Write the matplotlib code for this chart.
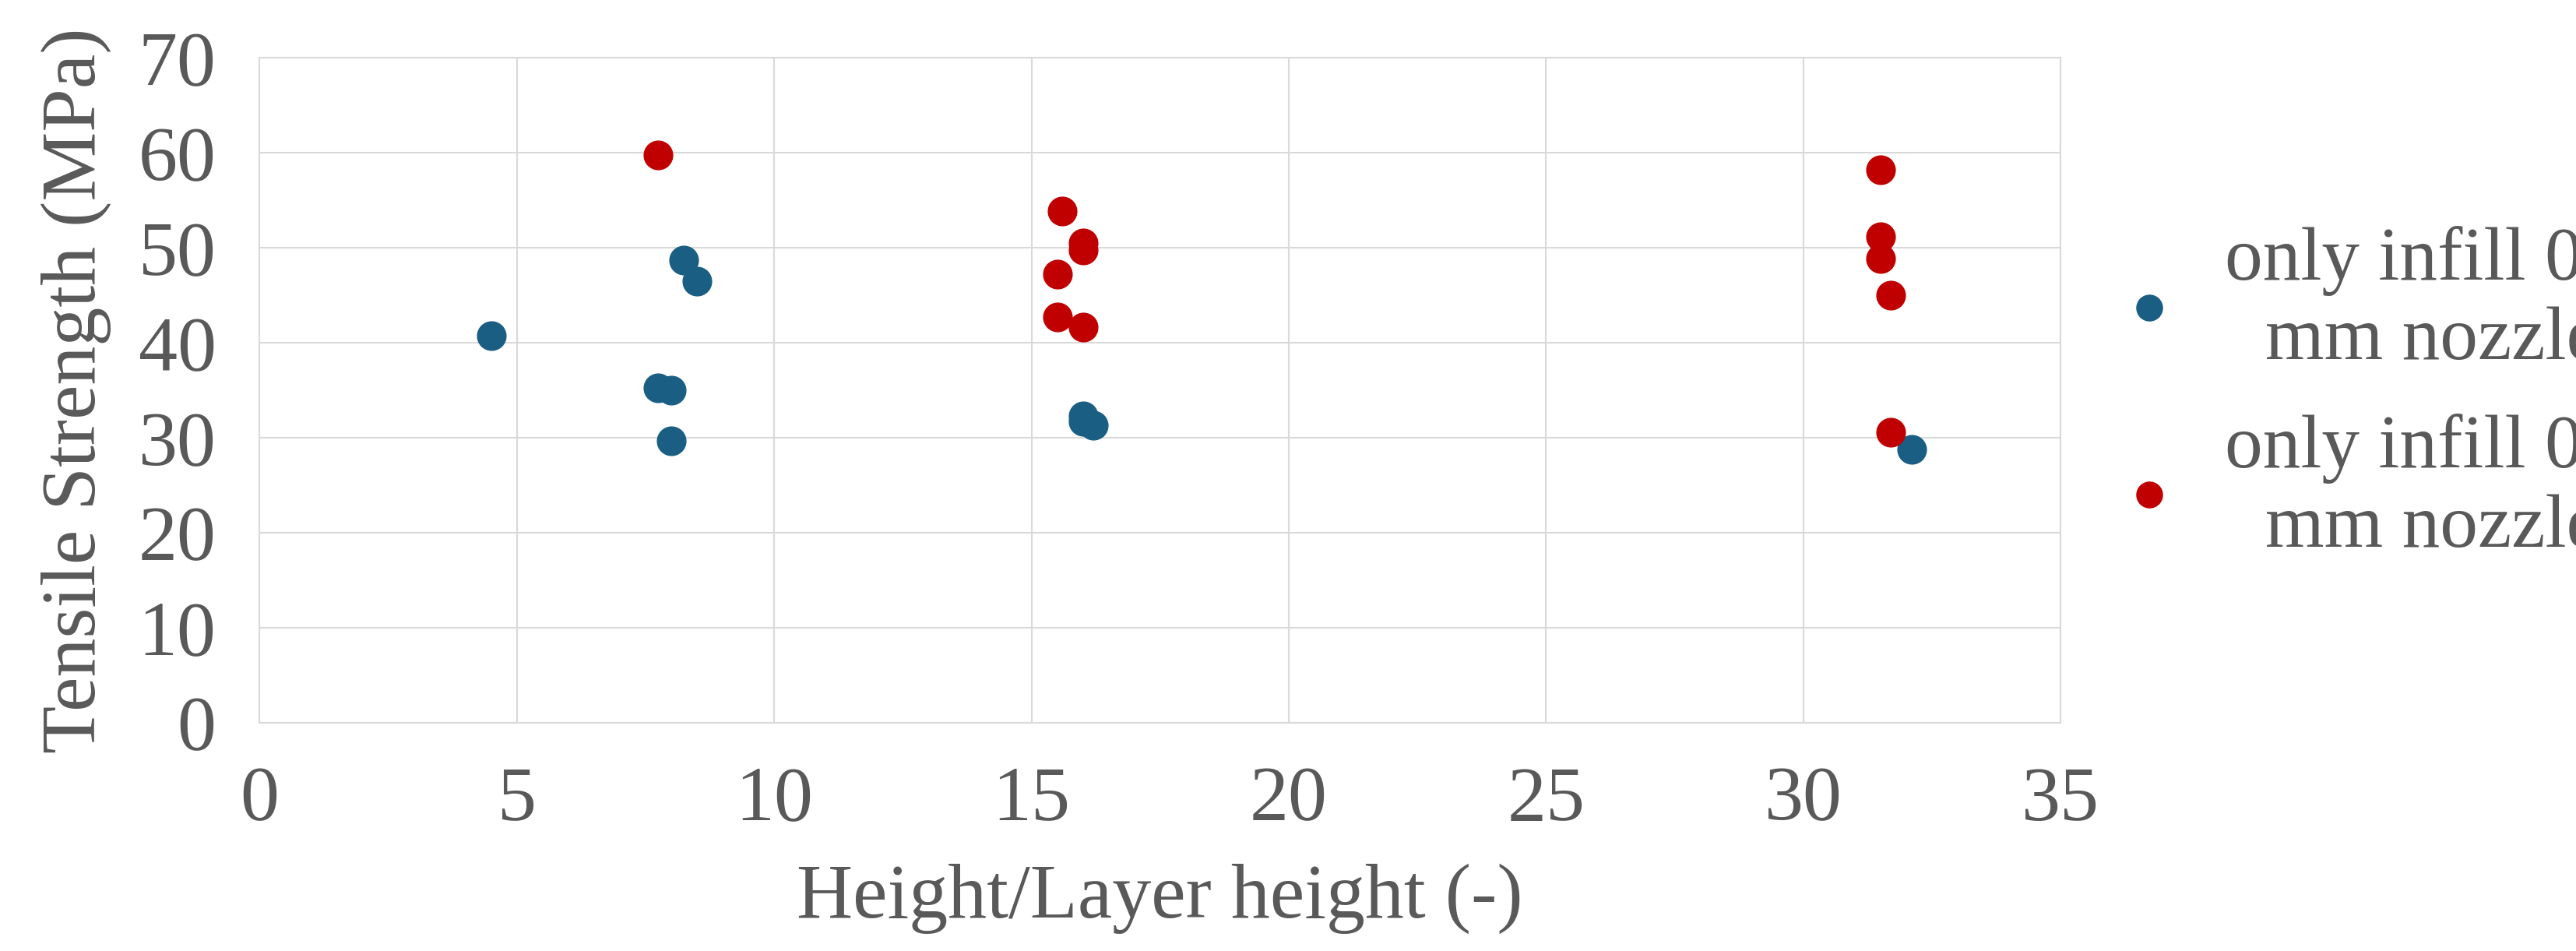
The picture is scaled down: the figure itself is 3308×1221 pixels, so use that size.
import matplotlib
matplotlib.use("Agg")
import matplotlib.pyplot as plt

blue_x = [4.5, 7.75, 8.0, 8.0, 8.25, 8.5, 16.0, 16.0, 16.2, 32.1]
blue_y = [40.8, 35.3, 35.0, 29.7, 48.7, 46.5, 32.3, 31.7, 31.3, 28.8]
red_x = [7.75, 15.6, 16.0, 16.0, 15.5, 15.5, 16.0, 31.5, 31.5, 31.5, 31.7, 31.7]
red_y = [59.8, 53.9, 50.5, 49.8, 47.2, 42.7, 41.7, 58.2, 51.2, 48.9, 45.0, 30.6]
labels = ["only infill 0.8\nmm nozzle", "only infill 0.4\nmm nozzle"]

plt.rcParams['font.family'] = ['Liberation Serif', 'DejaVu Serif']
gray = '#595959'
fig = plt.figure(figsize=(33.08, 12.21), dpi=100)
ax = fig.add_axes([0.1007, 0.24, 0.6993, 0.699])
ax.scatter(blue_x, blue_y, s=700, color='#1a5e83', label=labels[0], zorder=3)
ax.scatter(red_x, red_y, s=700, color='#c00000', marker='o', label=labels[1], zorder=3)
ax.set_xlim(0, 35)
ax.set_ylim(0, 70)
ax.set_xticks(range(0, 36, 5))
ax.set_yticks(range(0, 71, 10))
ax.grid(True, color='#d9d9d9', linewidth=1.5)
ax.set_axisbelow(True)
for s in ax.spines.values():
    s.set_color('#d9d9d9'); s.set_linewidth(1.5)
ax.tick_params(axis='both', length=0, labelsize=72, labelcolor=gray)
ax.tick_params(axis='x', pad=40)
ax.tick_params(axis='y', pad=40)
ax.set_xlabel("Height/Layer height (-)", fontsize=72, color=gray, labelpad=25)
ax.set_ylabel("Tensile Strength (MPa)", fontsize=72, color=gray, labelpad=25)
leg = fig.legend(loc='center left', bbox_to_anchor=(0.805, 0.585), frameon=False,
                 fontsize=70, handletextpad=0.0, labelspacing=0.5, markerscale=0.9,
                 borderaxespad=0, borderpad=0)
for t in leg.get_texts():
    t.set_color(gray); t.set_multialignment('center')
fig.savefig("out.png", dpi=100)
